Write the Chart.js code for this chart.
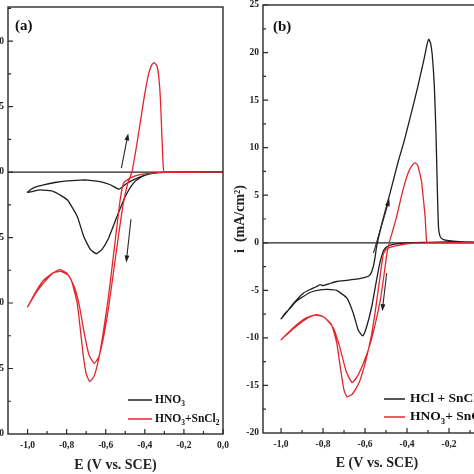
<!DOCTYPE html>
<html>
<head>
<meta charset="utf-8">
<script src="https://cdn.jsdelivr.net/npm/chart.js@4"></script>
<style>
html, body { margin: 0; padding: 0; background: #fff; }
body { width: 474px; height: 474px; position: relative; overflow: hidden; }
#pa { position: absolute; left: -37px; top: 0; width: 272px; height: 474px; }
#pb { position: absolute; left: 218px; top: 0; width: 275px; height: 474px; }
</style>
</head>
<body>
<div id="pa"><canvas id="ca"></canvas></div>
<div id="pb"><canvas id="cb"></canvas></div>
<script>
const RED = "#e3262d";
const BLACK = "#1e1e1e";

// panel (a) - HNO3 (black), one cycle: cathodic sweep then return
const aBlackE = [0, -0.25, -0.33, -0.38, -0.42, -0.459, -0.5, -0.542, -0.585, -0.619, -0.648, -0.679, -0.713, -0.746, -0.797, -0.866, -0.934, -1.0,
  -0.985, -0.96, -0.918, -0.86, -0.797, -0.73, -0.695, -0.628, -0.58, -0.534, -0.52, -0.491, -0.455, -0.423, -0.39, -0.357, -0.306, -0.2, 0];
const aBlackI = [0, 0, -0.05, -0.15, -0.4, -0.86, -1.87, -3.38, -5.03, -5.9, -6.24, -5.9, -4.9, -3.38, -2.12, -1.49, -1.36, -1.55,
  -1.35, -1.15, -0.98, -0.8, -0.68, -0.62, -0.61, -0.73, -0.95, -1.31, -1.2, -0.86, -0.58, -0.36, -0.2, -0.1, -0.02, 0, 0];

// panel (a) - HNO3 + SnCl2 (red)
const aRedE = [0, -0.3, -0.39, -0.43, -0.458, -0.49, -0.509, -0.525, -0.54, -0.56, -0.585, -0.61, -0.635, -0.66, -0.682, -0.7, -0.715, -0.73, -0.746, -0.775, -0.8, -0.835, -0.87, -0.92, -0.96, -1.0,
  -0.96, -0.92, -0.87, -0.83, -0.79, -0.76, -0.735, -0.71, -0.685, -0.658, -0.635, -0.61, -0.585, -0.56, -0.535, -0.51, -0.488, -0.466, -0.45, -0.432, -0.406, -0.381, -0.364, -0.352, -0.338, -0.328, -0.32, -0.313, -0.306, -0.3, 0];
const aRedI = [0, 0, -0.12, -0.22, -0.35, -0.6, -0.85, -2.0, -3.8, -6.3, -9.4, -12.0, -14.2, -15.6, -16.0, -15.4, -14.0, -12.0, -10.0, -8.3, -7.7, -7.45, -7.7, -8.5, -9.3, -10.3,
  -9.2, -8.3, -7.7, -7.58, -7.9, -8.8, -10.2, -12.3, -14.0, -14.6, -14.1, -12.5, -10.3, -7.6, -4.9, -2.4, -0.9, 0, 1.3, 2.93, 5.45, 7.47, 8.2, 8.35, 8.1, 7.2, 5.5, 2.93, 0.5, 0, 0];

// panel (b) - HCl + SnCl2 (black)
const bBlackE = [0, -0.15, -0.206, -0.3, -0.4, -0.46, -0.49, -0.505, -0.515, -0.53, -0.545, -0.568, -0.592, -0.611, -0.632, -0.656, -0.687, -0.735, -0.78, -0.814, -0.86, -0.894, -0.93, -0.957, -0.98, -1.0,
  -0.97, -0.94, -0.894, -0.86, -0.83, -0.814, -0.8, -0.77, -0.735, -0.69, -0.64, -0.6, -0.576, -0.562, -0.552, -0.545, -0.52, -0.48, -0.44, -0.416, -0.38, -0.352, -0.32, -0.305, -0.297, -0.288, -0.28, -0.27, -0.262, -0.256, -0.25, -0.243, -0.232, -0.21, -0.15, 0];
const bBlackI = [0.05, 0.08, 0.1, 0.05, 0, -0.15, -0.35, -0.6, -1.0, -2.2, -3.9, -6.7, -8.8, -9.8, -9.2, -7.4, -5.8, -5.0, -4.9, -4.95, -5.2, -5.65, -6.2, -6.9, -7.4, -8.0,
  -7.2, -6.35, -5.3, -4.9, -4.6, -4.4, -4.5, -4.3, -4.07, -3.95, -3.82, -3.65, -3.37, -2.6, -1.5, -0.4, 2.0, 5.3, 8.7, 10.5, 13.6, 16.1, 19.2, 20.8, 21.4, 21.0, 19.8, 16.5, 11.5, 6.0, 1.6, 0.7, 0.4, 0.25, 0.12, 0.05];

// panel (b) - HNO3 + SnCl2 (red)
const bRedE = [0, -0.3, -0.4, -0.46, -0.5, -0.513, -0.53, -0.55, -0.57, -0.6, -0.63, -0.66, -0.686, -0.7, -0.715, -0.735, -0.76, -0.8, -0.84, -0.88, -0.94, -1.0,
  -0.94, -0.88, -0.83, -0.79, -0.75, -0.72, -0.69, -0.662, -0.638, -0.605, -0.575, -0.55, -0.527, -0.511, -0.495, -0.481, -0.465, -0.449, -0.43, -0.41, -0.39, -0.372, -0.362, -0.35, -0.338, -0.33, -0.314, -0.306, -0.29, 0];
const bRedI = [0, 0, -0.1, -0.35, -0.7, -1.2, -3.8, -7.0, -9.8, -12.7, -14.8, -15.9, -16.2, -15.5, -13.5, -10.5, -8.6, -7.75, -7.6, -8.0, -9.0, -10.2,
  -8.9, -7.9, -7.55, -7.9, -9.0, -11.0, -13.5, -14.7, -14.1, -12.5, -10.6, -8.4, -6.0, -3.6, -1.0, 0.3, 1.5, 2.8, 4.6, 6.3, 7.6, 8.25, 8.4, 8.2, 7.2, 6.3, 2.8, 0.1, 0, 0];

const legendA = ["HNO_3", "HNO_3+SnCl_2"];
const legendB = ["HCl + SnCl_2", "HNO_3+ SnCl_2"];
// sweep direction arrows: [E0, i0, E1, i1]
const arrowsA = [[-0.52, 0.3, -0.485, 2.95], [-0.471, -3.6, -0.495, -6.9]];
const arrowsB = [[-0.56, -1.08, -0.484, 4.6], [-0.497, -3.2, -0.518, -7.2]];

const SERIF = "'Liberation Serif', 'DejaVu Serif', serif";

function pts(es, is) {
  return es.map((e, k) => ({ x: e, y: is[k] }));
}

function curve(label, es, is, color) {
  return {
    label,
    data: pts(es, is),
    borderColor: color,
    borderWidth: 1.3,
    showLine: true,
    pointRadius: 0,
    tension: 0.15,
    fill: false };
}

function zeroLine() {
  return {
    label: "zero",
    data: [{ x: -1.1, y: 0 }, { x: 0, y: 0 }],
    borderColor: "#222",
    borderWidth: 1.2,
    showLine: true,
    pointRadius: 0,
    fill: false };
}

function rich(ctx, text, x, y, size) {
  const parts = text.split(/_(\d)/);
  let cx = x;
  parts.forEach((p, k) => {
    const sub = k % 2 === 1;
    ctx.font = `bold ${sub ? size * 0.65 : size}px ${SERIF}`;
    ctx.fillText(p, cx, sub ? y + size * 0.32 : y);
    cx += ctx.measureText(p).width;
  });
}

function arrow(ctx, x0, y0, x1, y1) {
  const ang = Math.atan2(y1 - y0, x1 - x0);
  const h = 7, w = 2.4;
  const c = Math.cos(ang), s = Math.sin(ang);
  ctx.beginPath();
  ctx.moveTo(x0, y0);
  ctx.lineTo(x1 - h * 0.7 * c, y1 - h * 0.7 * s);
  ctx.stroke();
  ctx.beginPath();
  ctx.moveTo(x1, y1);
  ctx.lineTo(x1 - h * c + w * s, y1 - h * s - w * c);
  ctx.lineTo(x1 - h * c - w * s, y1 - h * s + w * c);
  ctx.closePath();
  ctx.fill();
}

const decor = {
  id: "decor",
  afterDatasetsDraw(chart, args, opts) {
    const { ctx, chartArea: a, scales: { x, y } } = chart;
    ctx.save();
    ctx.strokeStyle = "#2a2a2a";
    ctx.fillStyle = "#1e1e1e";
    ctx.lineWidth = 1.4;
    ctx.strokeRect(a.left, a.top, a.right - a.left, a.bottom - a.top);

    // inward tick marks, major and minor
    ctx.lineWidth = 1.2;
    const xt = x.ticks.map(t => t.value);
    const yt = y.ticks.map(t => t.value);
    const xs = 0.1, ys = 2.5;
    ctx.beginPath();
    for (let v = xt[0] - xs; v <= x.max + 1e-9; v += xs) {
      if (v < x.min + 1e-9) continue;
      const px = x.getPixelForValue(v);
      const major = xt.some(t => Math.abs(t - v) < 1e-6);
      ctx.moveTo(px, a.bottom);
      ctx.lineTo(px, a.bottom - (major ? 5 : 3));
    }
    for (let v = yt[0]; v <= y.max + 1e-9; v += ys) {
      if (v < y.min + 1e-9) continue;
      const py = y.getPixelForValue(v);
      const major = yt.some(t => Math.abs(t - v) < 1e-6);
      ctx.moveTo(a.left, py);
      ctx.lineTo(a.left + (major ? 5 : 3), py);
    }
    ctx.stroke();

    // sweep arrows
    ctx.lineWidth = 1.1;
    opts.arrows.forEach(r => {
      arrow(ctx, x.getPixelForValue(r[0]), y.getPixelForValue(r[1]),
        x.getPixelForValue(r[2]), y.getPixelForValue(r[3]));
    });

    // panel letter
    ctx.textBaseline = "middle";
    ctx.textAlign = "left";
    ctx.fillStyle = "#111";
    ctx.font = `bold 15px ${SERIF}`;
    ctx.fillText(opts.letter, a.left + opts.letterDx, a.top + opts.letterDy);

    // legend
    const ds = chart.data.datasets;
    opts.legend.forEach((txt, k) => {
      const ly = a.bottom - opts.legDy[k];
      const lx = opts.legFromLeft ? a.left + opts.legDx : a.right - opts.legDx;
      ctx.strokeStyle = ds[opts.legOrder[k]].borderColor;
      ctx.lineWidth = 1.5;
      ctx.beginPath();
      ctx.moveTo(lx, ly);
      ctx.lineTo(lx + opts.legLen, ly);
      ctx.stroke();
      ctx.fillStyle = "#111";
      rich(ctx, txt, lx + opts.legLen + opts.legGap, ly, opts.legSize);
    });
    ctx.restore();
  } };

function makeChart(id, sets, cfg) {
  const tickFont = { family: SERIF, size: 9.5, weight: "bold" };
  const titleFont = { family: SERIF, size: 14, weight: "bold", lineHeight: 1.2 };
  return new Chart(document.getElementById(id), {
    type: "scatter",
    data: { datasets: sets },
    options: {
      responsive: true,
      maintainAspectRatio: false,
      animation: false,
      devicePixelRatio: 1,
      layout: { padding: cfg.pad },
      scales: {
        x: {
          type: "linear",
          min: cfg.xmin,
          max: 0,
          afterFit: s => {
            s.height = cfg.xh;
            s.paddingLeft = 0;
            s.paddingRight = 0;
          },
          ticks: {
            stepSize: 0.2,
            includeBounds: false,
            padding: 6,
            color: "#222",
            font: tickFont,
            callback: v => (Math.abs(v) < 1e-9 ? 0 : v).toFixed(1).replace(".", ",") },
          grid: { display: false, drawTicks: false },
          border: { display: false },
          title: {
            display: true,
            text: "E (V vs. SCE)",
            color: "#222",
            font: titleFont,
            padding: { top: 0, bottom: cfg.xtp } } },

        y: {
          type: "linear",
          min: cfg.ymin,
          max: cfg.ymax,
          afterFit: s => {
            s.width = 45;
            s.paddingTop = 0;
            s.paddingBottom = 0;
          },
          ticks: {
            stepSize: 5,
            includeBounds: false,
            padding: 4,
            color: "#222",
            font: tickFont },
          grid: { display: false, drawTicks: false },
          border: { display: false },
          title: {
            display: cfg.ytitle,
            text: "i  (mA/cm²)",
            color: "#222",
            font: titleFont,
            padding: { top: cfg.ytp, bottom: 0 } } } },

      plugins: {
        legend: { display: false },
        tooltip: { enabled: false },
        decor: cfg.decor } },

    plugins: [decor] });
}

makeChart("ca", [
curve("HNO3+SnCl2", aRedE, aRedI, RED),
curve("HNO3", aBlackE, aBlackI, BLACK),
zeroLine()],
{
  pad: { left: 0, right: 12, top: 7, bottom: 0 },
  xmin: -1.1, xh: 40, xtp: 0.6, ymin: -20, ymax: 12.6, ytitle: false, ytp: 0,
  decor: {
    arrows: arrowsA, letter: "(a)", letterDx: 7, letterDy: 19,
    legend: legendA, legOrder: [1, 0], legDy: [34, 15], legFromLeft: false,
    legDx: 95, legLen: 24, legGap: 3, legSize: 11.5 } });

makeChart("cb", [
curve("HNO3+ SnCl2", bRedE, bRedI, RED),
curve("HCl + SnCl2", bBlackE, bBlackI, BLACK),
zeroLine()],
{
  pad: { left: 0, right: 2, top: 5, bottom: 0 },
  xmin: -1.086, xh: 41, xtp: 2.6, ymin: -20, ymax: 25, ytitle: true, ytp: 13.5,
  decor: {
    arrows: arrowsB, letter: "(b)", letterDx: 10, letterDy: 22,
    legend: legendB, legOrder: [1, 0], legDy: [34, 16], legFromLeft: true,
    legDx: 121, legLen: 21, legGap: 5, legSize: 13.5 } });
</script>
</body>
</html>
